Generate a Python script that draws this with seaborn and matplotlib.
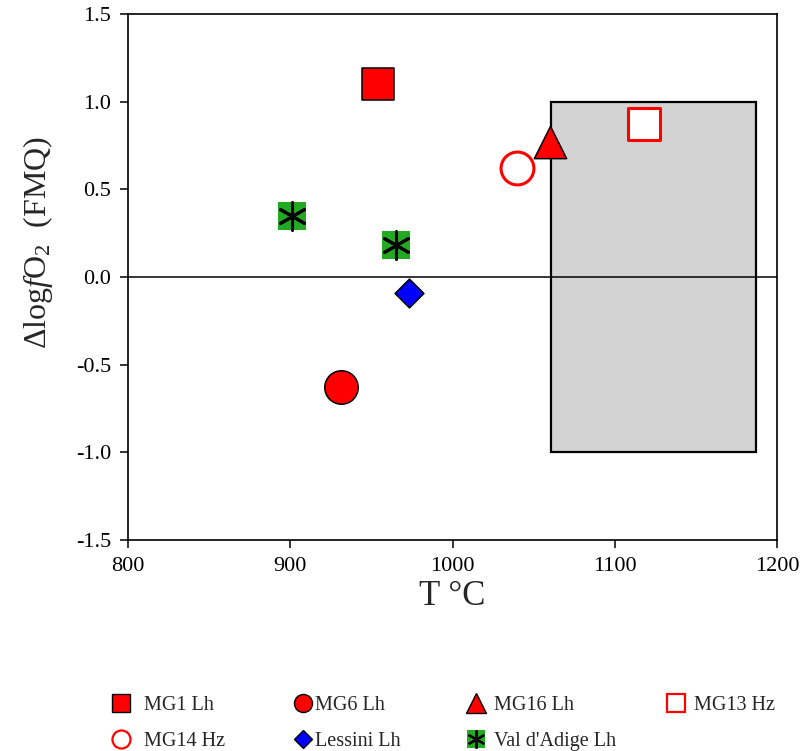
import matplotlib
matplotlib.use("Agg")
import matplotlib.pyplot as plt
import seaborn as sns
import pandas as pd
from matplotlib.lines import Line2D
from matplotlib.patches import Rectangle

# sample values: temperature (°C) and ΔlogfO2 (FMQ)
mg1_t = [954]
mg1_fo2 = [1.10]
mg6_t = [931]
mg6_fo2 = [-0.63]
mg16_t = [1060]
mg16_fo2 = [0.77]
mg13_t = [1118]
mg13_fo2 = [0.87]
mg14_t = [1040]
mg14_fo2 = [0.62]
lessini_t = [973]
lessini_fo2 = [-0.09]
valdadige_t = [901, 965]
valdadige_fo2 = [0.35, 0.18]

# grey field (T range, fO2 range)
field_t = [1061, 1187]
field_fo2 = [-1.0, 1.0]

x_ticks = [800, 900, 1000, 1100, 1200]
y_ticks = [-1.5, -1.0, -0.5, 0.0, 0.5, 1.0, 1.5]

GREEN = "#22aa22"

sns.set_style("white")
plt.rcParams["font.family"] = ["Liberation Serif", "DejaVu Serif"]
plt.rcParams["mathtext.fontset"] = "custom"
plt.rcParams["mathtext.rm"] = "Liberation Serif"
plt.rcParams["mathtext.it"] = "Liberation Serif:italic"

fig = plt.figure(figsize=(8.03, 7.51), dpi=100)
ax = fig.add_axes([128 / 803, 211 / 751, 649 / 803, 526 / 751])

ax.add_patch(Rectangle((field_t[0], field_fo2[0]), field_t[1] - field_t[0],
                       field_fo2[1] - field_fo2[0], facecolor="#d3d3d3",
                       edgecolor="black", linewidth=1.6, zorder=1))
ax.axhline(0, color="black", linewidth=1.1, zorder=2)


def frame(t, fo2):
    return pd.DataFrame({"T": t, "fO2": fo2})


sns.scatterplot(data=frame(mg1_t, mg1_fo2), x="T", y="fO2", marker="s", s=560,
                color="red", edgecolor="black", linewidth=1.1, ax=ax, zorder=3, legend=False)
sns.scatterplot(data=frame(mg6_t, mg6_fo2), x="T", y="fO2", marker="o", s=580,
                color="red", edgecolor="black", linewidth=1.1, ax=ax, zorder=3, legend=False)
sns.scatterplot(data=frame(mg16_t, mg16_fo2), x="T", y="fO2", marker="^", s=540,
                color="red", edgecolor="black", linewidth=1.1, ax=ax, zorder=3, legend=False)
sns.scatterplot(data=frame(mg13_t, mg13_fo2), x="T", y="fO2", marker="s", s=530,
                color="white", edgecolor="red", linewidth=2.2, ax=ax, zorder=3, legend=False)
sns.scatterplot(data=frame(mg14_t, mg14_fo2), x="T", y="fO2", marker="o", s=560,
                color="white", edgecolor="red", linewidth=2.2, ax=ax, zorder=3, legend=False)
sns.scatterplot(data=frame(lessini_t, lessini_fo2), x="T", y="fO2", marker="D", s=215,
                color="blue", edgecolor="black", linewidth=1.1, ax=ax, zorder=3, legend=False)
sns.scatterplot(data=frame(valdadige_t, valdadige_fo2), x="T", y="fO2", marker="s", s=390,
                color=GREEN, edgecolor=GREEN, linewidth=0, ax=ax, zorder=3, legend=False)
sns.scatterplot(data=frame(valdadige_t, valdadige_fo2), x="T", y="fO2", marker=(6, 2, 0), s=390,
                color="black", edgecolor="black", linewidth=2.2, ax=ax, zorder=4, legend=False)

ax.set_xlim(800, 1200)
ax.set_ylim(-1.5, 1.5)
ax.set_xticks(x_ticks)
ax.set_yticks(y_ticks)
ax.set_yticklabels([f"{v:.1f}" for v in y_ticks])
ax.tick_params(direction="out", length=6, width=1.1, labelsize=16, colors="black",
               bottom=True, left=True, top=False, right=False, pad=6)
for sp in ax.spines.values():
    sp.set_visible(True)
    sp.set_color("black")
    sp.set_linewidth(1.2)

ax.set_xlabel("T °C", fontsize=25, labelpad=3)
ax.set_ylabel(r"$\Delta$log$\it{f}$O$_2$  (FMQ)", fontsize=23)
ax.yaxis.set_label_coords(-0.112, 0.565)

# legend, laid out as four fixed columns under the plot
h_mg1 = Line2D([], [], ls="none", marker="s", ms=13, mfc="red", mec="black", mew=1)
h_mg6 = Line2D([], [], ls="none", marker="o", ms=13, mfc="red", mec="black", mew=1)
h_mg16 = Line2D([], [], ls="none", marker="^", ms=14, mfc="red", mec="black", mew=1)
h_mg13 = Line2D([], [], ls="none", marker="s", ms=13, mfc="white", mec="red", mew=1.6)
h_mg14 = Line2D([], [], ls="none", marker="o", ms=13, mfc="white", mec="red", mew=1.6)
h_les = Line2D([], [], ls="none", marker="D", ms=9, mfc="blue", mec="black", mew=1)
h_val = (Line2D([], [], ls="none", marker="s", ms=13, mfc=GREEN, mec=GREEN, mew=0),
         Line2D([], [], ls="none", marker=(6, 2, 0), ms=13, mec="black", mew=1.6))

columns = [
    (109, [h_mg1, h_mg14], ["MG1 Lh", "MG14 Hz"], 0.55),
    (291, [h_mg6, h_les], ["MG6 Lh", "Lessini Lh"], 0.0),
    (464, [h_mg16, h_val], ["MG16 Lh", "Val d'Adige Lh"], 0.3),
    (664, [h_mg13], ["MG13 Hz"], 0.3),
]
for x0, handles, labels, pad in columns:
    fig.legend(handles, labels, loc="upper left", bbox_to_anchor=(x0 / 803, 1 - 696 / 751),
               frameon=False, fontsize=14.5, handlelength=1.2, handletextpad=pad,
               borderpad=0, borderaxespad=0, labelspacing=0.85)

fig.savefig("out.png", dpi=100)
